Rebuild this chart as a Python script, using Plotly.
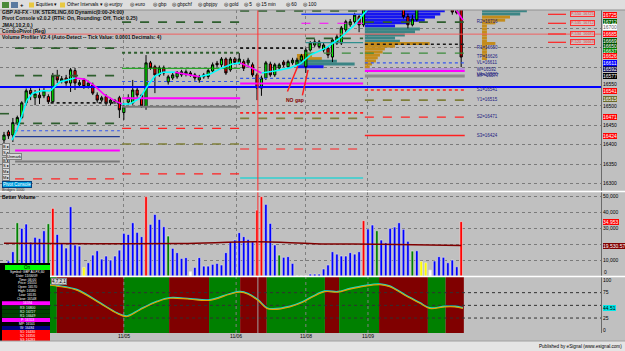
import plotly.graph_objects as go

# ------------------------------------------------------------------ data
bar_idx = list(range(104))
opens = [16412,16433,16425,16456,16470,16508,16540,16521,16528,16526,16524,16511,16577,16564,16572,16559,16591,16554,16567,16552,
         16554,16528,16515,16524,16508,16514,16521,16483,16510,16508,16541,16528,16498,16611,16601,16580,16598,16562,16572,16575,
         16580,16582,16585,16580,16567,16575,16576,16590,16610,16606,16621,16593,16621,16611,16614,16611,16606,16580,16546,16572,
         16608,16580,16598,16613,16601,16611,16606,16618,16601,16644,16657,16653,16644,16649,16626,16662,16662,16696,16709,16717,
         16730,16709,16750,16765,16778,16788,16780,16790,16784,16772,16765,16730,16709,16722,16752,16768,16780,16775,16785,16778,
         16765,16758,16746,16755]
highs = [16433,16438,16469,16475,16512,16545,16547,16541,16545,16546,16530,16585,16593,16577,16580,16598,16598,16567,16572,16565,
         16560,16535,16526,16530,16521,16518,16526,16508,16530,16567,16548,16531,16631,16616,16606,16604,16604,16580,16585,16590,
         16593,16594,16590,16585,16580,16585,16596,16612,16616,16626,16625,16626,16626,16636,16620,16624,16612,16585,16578,16616,
         16614,16611,16611,16618,16619,16624,16624,16634,16650,16667,16672,16670,16662,16654,16675,16685,16706,16722,16724,16740,
         16736,16760,16775,16785,16795,16800,16795,16805,16795,16785,16770,16738,16735,16760,16775,16790,16792,16790,16795,16785,
         16775,16765,16760,16765]
lows = [16404,16415,16407,16450,16466,16503,16515,16502,16505,16520,16505,16508,16559,16558,16552,16536,16541,16549,16544,16545,
        16528,16508,16510,16500,16502,16505,16469,16464,16503,16503,16521,16495,16490,16593,16533,16575,16578,16555,16567,16570,
        16575,16576,16575,16565,16560,16570,16570,16585,16600,16600,16580,16588,16606,16606,16590,16604,16575,16515,16526,16567,
        16575,16575,16593,16600,16596,16606,16603,16614,16585,16640,16652,16648,16638,16623,16613,16657,16657,16690,16704,16712,
        16690,16704,16745,16758,16770,16772,16770,16778,16765,16755,16725,16700,16705,16718,16748,16760,16770,16765,16770,16760,
        16752,16735,16736,16600]
closes = [16425,16423,16457,16470,16508,16539,16531,16531,16521,16539,16511,16578,16567,16570,16559,16593,16559,16560,16550,16559,
          16533,16515,16521,16507,16515,16511,16490,16498,16521,16541,16528,16500,16611,16598,16580,16598,16585,16575,16580,16586,
          16588,16588,16580,16572,16575,16580,16591,16606,16606,16621,16585,16621,16612,16621,16597,16618,16580,16546,16572,16611,
          16580,16606,16606,16606,16614,16618,16618,16629,16644,16662,16665,16665,16657,16631,16670,16678,16701,16717,16717,16734,
          16709,16750,16765,16778,16788,16780,16790,16784,16772,16765,16730,16709,16724,16752,16768,16780,16775,16785,16778,16765,
          16758,16742,16740,16626]

volume = [7300,9400,15200,33300,29800,32500,21200,24200,23500,28300,32700,42300,26000,20400,17500,43300,19400,18700,5400,8300,
          13100,15800,10600,12500,10000,12500,16200,26700,26000,33300,27300,24600,49600,32300,38500,35400,30800,25000,17300,14600,
          11000,11500,2700,5400,11500,6200,6200,7300,7900,6900,14600,21500,22500,27100,24600,22900,21500,41200,49600,44800,
          32900,19400,13100,11700,12100,7900,0,0,0,1200,1200,1200,4400,6900,15200,13700,12500,12500,14600,13700,
          15200,34600,29400,31900,28300,22500,20800,29800,30600,33300,29200,21700,15600,15800,9200,8300,3700,9400,12100,11700,
          8300,10000,5800,34000]
volume_state = ['b']*104
for i_, s_ in {3:'g',10:'g',11:'r',18:'y',32:'r',37:'g',42:'w',57:'r',58:'r',62:'g',81:'r',84:'g',92:'g',
               94:'y',95:'y',96:'w',103:'r'}.items():
    volume_state[i_] = s_

vol_ma_idx = [0, 20, 40, 57, 70, 85, 103]
vol_ma = [20400, 20100, 20300, 21400, 20200, 19800, 19000]

jma_idx = [1.8,2.9,4.1,5.2,6.5,8.6,10.4,12.6,16,18.2,20.5,22.7,25,26.6,28.4,30.6,32.2,34,35.8,38.5,40.8,44.1,46.4,49.1,51.4,
           53.2,55.4,58,61,64.4,66.7,69,72.5,75.7,79,81.8,84.7,93.7,99.3,101.6,103.4]
jma_val = [16412,16438,16477,16515,16533,16539,16539,16562,16572,16569,16551,16528,16513,16505,16505,16520,16549,16577,16587,
           16587,16582,16575,16582,16598,16608,16611,16600,16585,16590,16598,16608,16631,16649,16675,16709,16747,16768,16786,
           16773,16752,16721]

osc_idx = [-0.9,10.4,11.9,16.4,21.6,25.5,27.7,30.6,34.5,37.4,41.9,46.4,50.9,53.2,55,57.2,59.2,60.6,64.4,67.3,69.6,72.3,75.2,
           77.9,81.3,84.7,86.9,90.3,93.7,95.9,99.3,101.6,103.4]
osc_val = [93,90,88,80,54,34,28,41,57,64,62,60,72,76,72,60,44,42,47,56,67,77,76,82,88,91,87,70,54,44,47,47,44]
osc_band_start = [-0.9,11.9,27.0,37.2,46.2,53.2,59.2,72.3,75.5,84.5,95.5,99.5]
osc_band_end = [11.9,27.0,37.2,46.2,53.2,59.2,72.3,75.5,84.5,95.5,99.5,103.6]
osc_band_state = ['up','down','up','down','up','down','up','down','up','down','up','down']

date_tick_idx = [27, 52.3, 68, 82]
date_tick_text = ['11/05', '11/06', '11/08', '11/09']
cursor_idx = 57.2

# pivot levels: start bar, end bar, price, kind
pivot_start = [2.5,2.5,10.5,-0.9,2.5,2.5,2.5,2.5,2.5,2.5,
               26.6,26.6,26.6,26.6,26.6,26.6,26.6,26.6,26.6,
               53.2,67,67,53.2,68,68,68,53.2,53.2,53.2,53.2,53.2,53.2,
               81.3,81.3,81.3,81.3,81.3,81.3,81.3,81.3,81.3,81.3,81.3,
               -0.9,-0.9]
pivot_end = [26.1,26.1,26.1,2.5,26.1,26.1,26.1,26.1,26.1,26.1,
             53.2,53.2,53.2,53.2,53.2,53.2,53.2,53.2,53.2,
             80.9,80.9,80.9,68,80.9,80.9,80.9,80.9,80.9,80.9,80.9,80.9,80.9,
             103.8,103.8,103.8,103.8,103.8,103.8,103.8,103.8,103.8,103.8,103.8,
             134.5,134.5]
pivot_price = [16649,16578,16508,16480,16455,16436,16421,16385,16357,16312,
               16716,16637,16597,16563,16520,16498,16442,16402,16325,
               16745,16736,16713,16649,16674,16663,16636,16571,16558,16482,16468,16389,16314,
               16716,16659,16636,16611,16595,16590,16577,16541,16515,16471,16424,
               16549,16685]
pivot_kind = ['dkg_dash','dkg_dash','blk_dot','dkg_dash','dkg_dash','blue_dot','navy','mag_thick','grey','red_dash',
              'dkg_dash','dkg_dot','green','blue_dot','mag_thick','grey','red_dash','olive_dash','red_dash',
              'dkg_dash','blue','mag_dash','blk_dot','dkg_dash','teal','green_dash','blue_dot','mag_thick','red_dot','olive_dash','red_dash','cyan',
              'dkg_dash','blk_dot','green_dash','blue_dot','violet','mag_thick','grey_thick','red_dot','olive_dash','red_dash','red',
              'blue_thick','red_thin']
pivot_text_price = [16716,16650,16626,16611,16592,16580,16577,16541,16515,16471,16424]
pivot_text = ['R2=16716','R1=16650','TP=16626','VL=16611','W=16592','VA=16580','MP=16577','S1=16541','Y1=16515','S2=16471','S3=16424']

# volume profiles: row price, start bar, length (bars), part
prof_price = [16745,16737,16729,16721,16714,16706,16698,16691,16683,16675,16667,16661,16654,16647,16639,16631,16624,16616,16608,16600,
              16630,16622,16615,16608,16601,
              16745,16737,16729,16721,16714,16706,16698,16690,16683,16675,16667,16661,16654,16646,16638,16630,16622]
prof_start = [81.3]*20 + [66]*5 + [107.7]*17
prof_len = [18,17,15.8,13.5,10,6.8,12.4,11.3,9,6.8,7.9,14.6,6.8,4.5,4,3.4,2.9,2.5,1.6,1.1,
            3.4,5.6,9,13,6,
            10.1,8.6,6.3,5.2,3,1.1,1.1,1.1,1.1,1.1,1.1,3,1.1,1.1,1.1,1.1,1.1]
prof_part = ['hi']*6 + ['mid']*5 + ['lo']*9 + ['lo','lo','mid','mid','hi'] + ['mid','mid'] + ['lo']*15

# ------------------------------------------------------------------ styles
BG = '#c0c0c0'
FONT = 'Liberation Sans, Arial, sans-serif'
W, H = 625, 351
XR = [-0.9, 134.5]
PR = [16280.8, 16747.2]
VR = [0, 52500]
OR = [-4.5, 105.9]
vcol = {'b': '#0000ff', 'g': '#008000', 'r': '#ff0000', 'y': '#ffff00', 'w': '#ffffff'}
pstyle = {
    'dkg_dash': ('#2e5e2e', 'dash', 1.6), 'dkg_dot': ('#2e5e2e', 'dot', 2), 'blk_dot': ('#1a1a1a', 'dot', 1.6),
    'blue_dot': ('#3355ee', 'dot', 1.2), 'navy': ('#203a90', 'solid', 1.2), 'mag_thick': ('#ff00ff', 'solid', 2),
    'grey': ('#7a7a7a', 'solid', 2), 'red_dash': ('#ff2020', 'dash', 1.2), 'olive_dash': ('#7f7f3a', 'dash', 1.6),
    'green': ('#00a000', 'solid', 1), 'blue': ('#2040ff', 'solid', 1.5), 'mag_dash': ('#ff00ff', 'dash', 1.2),
    'teal': ('#2f8f8f', 'solid', 1.2), 'green_dash': ('#3a8a3a', 'dash', 1.2), 'red_dot': ('#ff2020', 'dot', 1.6),
    'cyan': ('#30d0d0', 'solid', 1.5), 'violet': ('#b080e0', 'solid', 1.5), 'grey_thick': ('#8c8c8c', 'solid', 3),
    'red': ('#ff2020', 'solid', 1.6), 'blue_thick': ('#0000ff', 'solid', 2), 'red_thin': ('#f06060', 'solid', 1),
}
pcol = {'hi': '#1515f0', 'mid': '#3b8585', 'lo': '#c48c1c'}

fig = go.Figure()

# ---------------- price panel
fig.add_trace(go.Bar(orientation='h', y=prof_price, x=prof_len, base=prof_start, width=7.6,
                     marker=dict(color=[pcol[p] for p in prof_part], line=dict(width=0)),
                     xaxis='x', yaxis='y', hoverinfo='skip'))
for s, e, p, k in zip(pivot_start, pivot_end, pivot_price, pivot_kind):
    c, d, w = pstyle[k]
    fig.add_trace(go.Scatter(x=[s, e], y=[p, p], mode='lines', line=dict(color=c, dash=d, width=w),
                             xaxis='x', yaxis='y', hoverinfo='skip'))
# JMA coloured by slope
cx, cy, mx, my = [], [], [], []
for a in range(len(jma_idx) - 1):
    seg = ([jma_idx[a], jma_idx[a + 1], None], [jma_val[a], jma_val[a + 1], None])
    if jma_val[a + 1] >= jma_val[a]:
        cx += seg[0]; cy += seg[1]
    else:
        mx += seg[0]; my += seg[1]
fig.add_trace(go.Scatter(x=cx, y=cy, mode='lines', line=dict(color='#00ffff', width=1.6), xaxis='x', yaxis='y'))
fig.add_trace(go.Scatter(x=mx, y=my, mode='lines', line=dict(color='#ff00ff', width=1.6), xaxis='x', yaxis='y'))
fig.add_trace(go.Candlestick(x=bar_idx, open=opens, high=highs, low=lows, close=closes,
                             increasing=dict(fillcolor='#00ff00', line=dict(color='#000000', width=1)),
                             decreasing=dict(fillcolor='#ff0000', line=dict(color='#000000', width=1)),
                             whiskerwidth=0, xaxis='x', yaxis='y', hoverinfo='skip'))
fig.add_trace(go.Scatter(x=[cursor_idx, cursor_idx], y=PR, mode='lines', line=dict(color='#ff3030', width=1),
                         xaxis='x', yaxis='y'))
fig.add_trace(go.Scatter(x=[106.5] * len(pivot_text), y=pivot_text_price, mode='text', text=pivot_text,
                         textposition='middle right', textfont=dict(family=FONT, size=4.5, color='#202080'),
                         xaxis='x', yaxis='y'))

# ---------------- volume panel
fig.add_trace(go.Bar(x=bar_idx, y=volume, width=0.58,
                     marker=dict(color=[vcol[s] for s in volume_state], line=dict(color='#e8e8e8', width=0.6)),
                     xaxis='x2', yaxis='y2', hoverinfo='skip'))
fig.add_trace(go.Scatter(x=vol_ma_idx, y=vol_ma, mode='lines', line=dict(color='#800000', width=1.5, shape='spline'),
                         xaxis='x2', yaxis='y2'))
fig.add_trace(go.Scatter(x=[cursor_idx, cursor_idx], y=VR, mode='lines', line=dict(color='#ff3030', width=1),
                         xaxis='x2', yaxis='y2'))

# ---------------- oscillator panel
mid = [(a + b) / 2 for a, b in zip(osc_band_start, osc_band_end)]
wid = [b - a for a, b in zip(osc_band_start, osc_band_end)]
fig.add_trace(go.Bar(x=mid, y=[OR[1] - OR[0]] * len(mid), base=OR[0], width=wid,
                     marker=dict(color=['#008000' if s == 'up' else '#800000' for s in osc_band_state], line=dict(width=0)),
                     xaxis='x3', yaxis='y3', hoverinfo='skip'))
for lv in [25, 50, 75]:
    fig.add_trace(go.Scatter(x=XR, y=[lv, lv], mode='lines', line=dict(color='#303030', dash='dot', width=1),
                             xaxis='x3', yaxis='y3'))
for t in date_tick_idx:
    fig.add_trace(go.Scatter(x=[t, t], y=OR, mode='lines', line=dict(color='#808080', dash='dot', width=1),
                             xaxis='x3', yaxis='y3'))
fig.add_trace(go.Scatter(x=[cursor_idx, cursor_idx], y=OR, mode='lines', line=dict(color='#a0a0a0', width=1),
                         xaxis='x3', yaxis='y3'))
fig.add_trace(go.Scatter(x=osc_idx, y=[v + 1.2 for v in osc_val], mode='lines',
                         line=dict(color='#00e0e0', width=1.4, shape='spline'), xaxis='x3', yaxis='y3'))
fig.add_trace(go.Scatter(x=osc_idx, y=osc_val, mode='lines',
                         line=dict(color='#e0a000', width=1.2, shape='spline'), xaxis='x3', yaxis='y3'))


def pY(ypx):
    return (H - ypx) / H


XD = [0, 601 / W]
common_x = dict(domain=XD, range=XR, showticklabels=False, ticks='', tickvals=date_tick_idx, showgrid=True,
                gridcolor='#808080', griddash='dot', gridwidth=1, zeroline=False, showline=False, fixedrange=True)
ytick = dict(side='right', ticks='', tickfont=dict(family=FONT, size=5, color='#000000'), showgrid=True,
             gridcolor='#7a7a7a', griddash='dot', zeroline=False, showline=True, linecolor='#6a6a6a', linewidth=1)

fig.update_layout(
    width=W, height=H, margin=dict(l=0, r=0, t=0, b=0), paper_bgcolor=BG, plot_bgcolor=BG,
    showlegend=False, barmode='overlay', hovermode=False,
    xaxis=dict(anchor='y', rangeslider=dict(visible=False), **common_x),
    xaxis2=dict(anchor='y2', matches='x', **common_x),
    xaxis3=dict(anchor='y3', matches='x', **{k: v for k, v in common_x.items() if k != 'showgrid'}, showgrid=False),
    yaxis=dict(domain=[pY(191), pY(10)], range=PR, anchor='x',
               tickvals=[16300, 16350, 16400, 16450, 16500, 16550, 16600, 16650, 16700],
               ticktext=['16300', '16350', '16400', '16450', '16500', '', '', '', ''], **ytick),
    yaxis2=dict(domain=[pY(276), pY(192)], range=VR, anchor='x2', tickvals=[0, 10000, 20000, 30000, 40000, 50000],
                ticktext=['', '10,000', '', '30,000', '40,000', '50,000'], **ytick),
    yaxis3=dict(domain=[pY(333), pY(277)], range=OR, anchor='x3', tickvals=[0, 25, 50, 75, 100],
                ticktext=['0', '25', '', '75', '100'],
                **{k: v for k, v in ytick.items() if k != 'showgrid'}, showgrid=False),
)

shapes = []
ann = []


def rect(x0, y0, x1, y1, fill, line=None):
    shapes.append(dict(type='rect', xref='paper', yref='paper', x0=x0 / W, x1=x1 / W, y0=pY(y1), y1=pY(y0),
                       fillcolor=fill, line=dict(width=0 if line is None else 1, color=line or fill), layer='above'))


def hline(x0, x1, y, color, width=1):
    shapes.append(dict(type='line', xref='paper', yref='paper', x0=x0 / W, x1=x1 / W, y0=pY(y), y1=pY(y),
                       line=dict(color=color, width=width), layer='above'))


def txt(x, y, s, size=5, color='#000000', bg=None, xanchor='left', bold=False, border=None):
    ann.append(dict(xref='paper', yref='paper', x=x / W, y=pY(y), text=('<b>%s</b>' % s) if bold else s,
                    showarrow=False, xanchor=xanchor, yanchor='middle',
                    font=dict(family=FONT, size=size, color=color), bgcolor=bg, borderpad=0,
                    bordercolor=border, borderwidth=1 if border else 0))


# toolbar
rect(0, 0, W, 10, '#dedede')
hline(0, W, 10, '#909090')
rect(2, 2, 9, 8, '#4a8a3a'); rect(11, 2, 18, 8, '#5a7aa0')
txt(20, 5, '+', 6, bold=True)
rect(29, 2.5, 34, 7.5, '#e8c840')
txt(36, 5, 'Equities ▾', 4.8)
rect(60, 2.5, 65, 7.5, '#e8c840')
txt(67, 5, 'Other Intervals ▾', 4.8)
for xx, lab in [(104, 'eurjpy'), (130, 'euro'), (153, 'gbp'), (172, 'gbpchf'), (198, 'gbpjpy'), (224, 'gold'),
                (244, '5'), (256, '15 min'), (286, '60'), (303, '100')]:
    txt(xx, 5, '◎ ' + lab, 4.8)

# header texts
for yy, s in [(12, 'GBP A0-FX - UK STERLING,60 Dynamic(0:00-24:00)'),
              (18.5, 'Pivot Console v2.0.2 (RTH: On, Rounding: Off, Tick: 0.25)'),
              (25, 'JMA(,10,2,0,)'), (31, 'ComboPivot (Reg)'),
              (37, 'Volume Profiler V2.4 (Auto-Detect -- Tick Value: 0.0001 Decimals: 4)')]:
    txt(1.5, yy, s, 5, '#101010', bold=True)

# left buttons
for yy, s in [(147, 'B ▸'), (152, 'S ▸'), (160, 'B ▸'), (166, 'S ▸'), (171, 'M ▸'), (177, 'M ▸')]:
    txt(2, yy, s, 4, '#000000', bg='#d8d8d8', border='#808080')
txt(6, 156, 'Unmark', 4, '#000000', bg='#d8d8d8', border='#808080')
txt(2, 184.5, 'Pivot Console', 4.5, '#ffffff', bg='#00a0e0', border='#004080')
txt(2, 189.5, 'Bridges 1000', 3.8, '#303030')

# panel separators
hline(0, W, 191.5, '#ffffff', 1.5)
hline(0, W, 276.5, '#ffffff', 1.5)
txt(1.5, 196.5, 'Better Volume', 5, '#000000', bold=True)

# right-side price labels
for yy, s, bg, fg in [(14.7, '16725', '#ff0000', '#ffffff'), (22, '16712', '#006000', '#ffffff'),
                      (27.5, '16700', '#ffffff', '#606060'), (33.5, '16685', '#ff0000', '#ffffff'),
                      (41, '16669', '#005000', '#ffffff'), (46, '16650', '#005000', '#ffffff'),
                      (51.5, '16637', '#008000', '#ffffff'), (56.5, '16626', '#ff0000', '#ffffff'),
                      (62.5, '16611', '#0000ff', '#ffffff'), (68.5, '16592', '#101050', '#ffffff'),
                      (75.5, '16577', '#000000', '#ffffff'), (84.5, '16550', None, '#000000'),
                      (91, '16541', '#ff0000', '#ffffff'),
                      (99, '16515', '#6b6b2a', '#ffffff'), (116.7, '16471', '#ff0000', '#ffffff'),
                      (136, '16424', '#ff0000', '#ffffff')]:
    txt(602.5, yy, s, 5, fg, bg=bg)
for yy, s in [(14.3, 'P-550  16725'), (23.3, 'P-535  16712'), (34, 'P-534  16685'), (42.3, 'P-520  16663')]:
    hline(548, 566, yy, '#ff2020', 1.2)
    txt(570, yy, s, 3.8, '#e04040', bg='#d0c0c0', border='#ff3030')

# volume / osc labels
txt(602.5, 222, '34,953', 5, '#ffffff', bg='#ff0000')
txt(602.5, 245.7, '19,530.57', 5, '#ffffff', bg='#800000')
txt(603.5, 271.8, '0', 5, '#000000')
txt(602.5, 308, '44.51', 5, '#000000', bg='#00e8e8')
txt(51, 281.5, '4,7,2,1', 4.5, '#000000', bg='#d0d0d0', border='#808080')

# date labels
for t, s in zip(date_tick_idx, date_tick_text):
    ann.append(dict(xref='x', yref='paper', x=t, y=pY(336), text=s, showarrow=False, xanchor='center',
                    yanchor='middle', font=dict(family=FONT, size=5, color='#000000')))

# NO gap arrows
ann.append(dict(xref='x', yref='y', x=66.2, y=16603, ax=-11, ay=27, showarrow=True, arrowhead=0,
                arrowwidth=1.5, arrowcolor='#ff2020', text=''))
ann.append(dict(xref='x', yref='y', x=68.5, y=16593, ax=-6, ay=27, showarrow=True, arrowhead=0,
                arrowwidth=1.5, arrowcolor='#ff2020', text=''))
ann.append(dict(xref='x', yref='y', x=65.5, y=16514, text='<b>NO gap</b>', showarrow=False,
                font=dict(family=FONT, size=5, color='#800000')))

# data window
rect(0, 263, 50, 351, '#000000')
rect(5, 265, 50, 270, '#00ff00')
txt(27, 267.5, 'On', 4.5, '#000000', xanchor='center')
rows = [(271.7, 'Symbol: GBP A0-FX,60', None), (275.7, 'Date: 11/06/09', None), (279.7, 'Time: 06:00', None),
        (283.3, 'Price: 16550', None), (287.3, 'Open: 16570', None), (291, 'High: 16580', None),
        (295, 'Low: 16535', None), (299, 'Close: 16548', None), (303.3, '16594', '#ff00ff'),
        (307.5, 'R3: 16800', '#004000'), (311.7, 'R2: 16727', '#004000'), (315.8, 'R1: 16649', '#004000'),
        (320, 'P: 16553', '#ff00ff'), (324, 'MP: 16501', '#000000'), (328, 'W: 16484', '#000080'),
        (332, 'S1: 16430', '#ff0000'), (336, 'S2: 16356', '#ff0000'), (340, 'S3: 16283', '#ff0000')]
for yy, s, bg in rows:
    if bg:
        rect(2, yy - 2, 50, yy + 2, bg)
    txt(27, yy, s, 3.3, '#ffffff', xanchor='center')

# status bar
rect(0, 341, W, 351, '#e4e4e4')
hline(0, W, 341, '#a0a0a0')
txt(622, 346, 'Published by eSignal (www.esignal.com)', 4.6, '#000000', xanchor='right')

fig.update_layout(shapes=shapes, annotations=ann)
fig.write_html('out.html')
